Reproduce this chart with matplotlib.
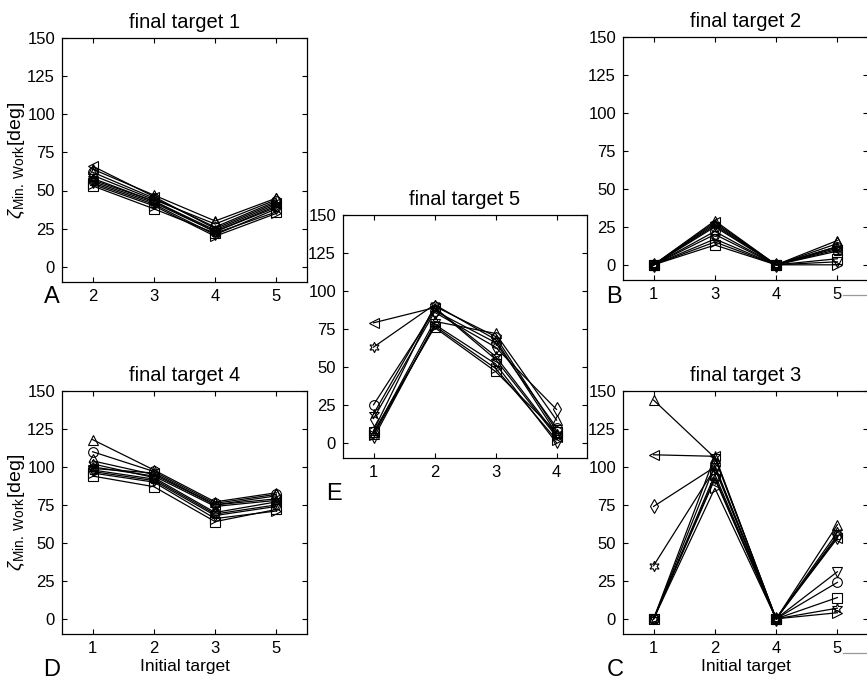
import matplotlib
matplotlib.use('Agg')
import matplotlib.pyplot as plt
from matplotlib.lines import Line2D

plt.rcParams['font.family'] = ['Liberation Sans', 'DejaVu Sans']
plt.rcParams['mathtext.fontset'] = 'custom'
plt.rcParams['mathtext.rm'] = 'Liberation Sans'
plt.rcParams['mathtext.it'] = 'Liberation Sans:italic'

# marker per subject: o, s, d, ^, v, <, >, pentagram, hexagram, asterisk
subject_markers = ['o', 's', 'd', '^', 'v', '<', '>', 'p', (6, 1, 0), '*']

# ---- final target 1 (A) ----
ft1_initial = ['2', '3', '4', '5']
ft1_values = [
    [62, 45, 26, 43],
    [53, 38, 22, 36],
    [60, 44, 28, 44],
    [64, 47, 30, 45],
    [55, 41, 21, 38],
    [66, 46, 25, 42],
    [54, 40, 20, 35],
    [56, 42, 23, 39],
    [57, 43, 23, 40],
    [58, 43, 24, 41],
]

# ---- final target 2 (B) ----
ft2_initial = ['1', '3', '4', '5']
ft2_values = [
    [0, 22, 0, 12],
    [0, 13, 0, 4],
    [0, 20, 0, 14],
    [0, 29, 0, 16],
    [0, 17, 0, 2],
    [0, 28, 0, 10],
    [0, 15, 0, 0],
    [0, 25, 0, 9],
    [0, 26, 0, 12],
    [0, 27, 0, 11],
]

# ---- final target 5 (E) ----
ft5_initial = ['1', '2', '3', '4']
ft5_values = [
    [25, 87, 66, 10],
    [7, 76, 47, 7],
    [16, 86, 63, 22],
    [6, 80, 72, 15],
    [3, 78, 52, 0],
    [79, 89, 55, 4],
    [5, 77, 49, 2],
    [8, 90, 70, 8],
    [63, 91, 68, 6],
    [19, 89, 57, 5],
]

# ---- final target 4 (D) ----
ft4_initial = ['1', '2', '3', '5']
ft4_values = [
    [110, 97, 76, 82],
    [94, 87, 64, 72],
    [104, 95, 75, 81],
    [118, 98, 77, 83],
    [97, 91, 68, 74],
    [99, 96, 75, 79],
    [96, 90, 66, 71],
    [98, 92, 69, 75],
    [102, 93, 70, 77],
    [100, 94, 74, 78],
]

# ---- final target 3 (C) ----
ft3_initial = ['1', '2', '4', '5']
ft3_values = [
    [0, 101, 0, 24],
    [0, 95, 0, 14],
    [74, 100, 0, 54],
    [144, 106, 0, 62],
    [0, 92, 0, 31],
    [108, 107, 0, 53],
    [0, 86, 0, 4],
    [0, 93, 0, 55],
    [35, 99, 0, 57],
    [0, 107, 0, 7],
]

W, H = 867, 685
fig = plt.figure(figsize=(W / 100, H / 100), dpi=100)


def px_axes(left, top, right, bottom):
    return fig.add_axes([left / W, 1 - bottom / H, (right - left) / W, (bottom - top) / H])


def draw_panel(ax, title, labels, values, ylabel=False, xlabel=False):
    xs = list(range(1, len(labels) + 1))
    for vals, m in zip(values, subject_markers):
        ms = 7.5 if m == (6, 1, 0) else 7
        ax.plot(xs, vals, color='black', lw=0.9, marker=m, ms=ms,
                mfc='none', mec='black', mew=0.8)
    ax.set_xlim(0.5, len(labels) + 0.5)
    ax.set_ylim(-10, 150)
    ax.set_xticks(xs)
    ax.set_xticklabels(labels)
    ax.set_yticks([0, 25, 50, 75, 100, 125, 150])
    ax.tick_params(direction='in', top=True, right=True, length=3.5,
                   labelsize=12, pad=5, width=0.8)
    for s in ax.spines.values():
        s.set_linewidth(0.9)
    ax.set_title(title, fontsize=14.5, pad=7)
    if ylabel:
        ax.set_ylabel(r'$\zeta_{\mathrm{Min.\ Work}}$[deg]', fontsize=14, labelpad=0)
    if xlabel:
        ax.set_xlabel('Initial target', fontsize=12.5, labelpad=2)


axA = px_axes(62, 38, 307, 282)
draw_panel(axA, 'final target 1', ft1_initial, ft1_values, ylabel=True)
axB = px_axes(623, 37, 868, 280)
draw_panel(axB, 'final target 2', ft2_initial, ft2_values)
axE = px_axes(343, 215, 587, 458)
draw_panel(axE, 'final target 5', ft5_initial, ft5_values)
axD = px_axes(62, 391, 307, 634)
draw_panel(axD, 'final target 4', ft4_initial, ft4_values, ylabel=True, xlabel=True)
axC = px_axes(623, 391, 868, 634)
draw_panel(axC, 'final target 3', ft3_initial, ft3_values, xlabel=True)

# panel letters
for letter, x, y in [('A', 52, 297), ('B', 614, 297), ('E', 334, 494),
                     ('D', 52, 670), ('C', 615, 670)]:
    fig.text(x / W, 1 - y / H, letter, fontsize=17, ha='center', va='center')

# small grey strokes next to the last tick labels of B and C
for y in (295, 653):
    fig.add_artist(Line2D([843 / W, 1.0], [1 - y / H, 1 - y / H], color='0.6', lw=0.9))

fig.savefig('out.png', dpi=100)
